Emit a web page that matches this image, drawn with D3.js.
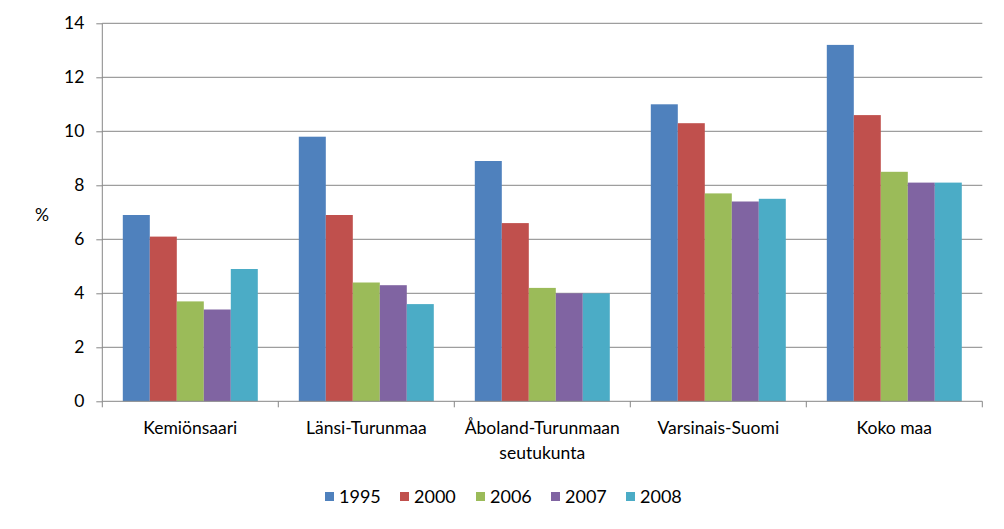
<!DOCTYPE html>
<html><head><meta charset="utf-8">
<script src="https://cdn.jsdelivr.net/npm/d3@7"></script>
<style>body{margin:0;background:#fff;} text{font-family:Lato,"Open Sans",sans-serif;fill:#000;}</style>
</head><body>
<svg id="c" width="1004" height="529"></svg>
<script>
const categories = [["Kemiönsaari"],["Länsi-Turunmaa"],["Åboland-Turunmaan","seutukunta"],["Varsinais-Suomi"],["Koko maa"]];
const years = ["1995","2000","2006","2007","2008"];
const v1995 = [6.9, 9.8, 8.9, 11.0, 13.2];
const v2000 = [6.1, 6.9, 6.6, 10.3, 10.6];
const v2006 = [3.7, 4.4, 4.2, 7.7, 8.5];
const v2007 = [3.4, 4.3, 4.0, 7.4, 8.1];
const v2008 = [4.9, 3.6, 4.0, 7.5, 8.1];
const yTicks = [0,2,4,6,8,10,12,14];
const colors = ["#4F81BD","#C0504D","#9BBB59","#8064A2","#4BACC6"];
const series = [v1995,v2000,v2006,v2007,v2008];

const svg = d3.select("#c");
const L=102.3, R=982.3, T=23.3, B=401.3;
const catIdx = d3.range(categories.length);
const x0 = d3.scaleBand().domain(catIdx).range([L,R]).paddingInner(0.233).paddingOuter(0.1165);
const x1 = d3.scaleBand().domain(d3.range(years.length)).range([0,x0.bandwidth()]);
const y = d3.scaleLinear().domain([0,14]).range([B,T]);

// gridlines
svg.append("g").selectAll("line").data(yTicks.filter(d=>d>0)).join("line")
  .attr("x1",L).attr("x2",R).attr("y1",d=>y(d)).attr("y2",d=>y(d))
  .attr("stroke","#868686").attr("stroke-width",1);

// bars
const g = svg.append("g");
series.forEach((s,si)=>{
  g.selectAll(null).data(s).join("rect")
   .attr("x",(d,i)=>x0(i)+x1(si)).attr("width",x1.bandwidth())
   .attr("y",d=>y(d)).attr("height",d=>B-y(d)).attr("fill",colors[si]);
});

// y axis
const ya = svg.append("g").attr("transform",`translate(${L},0)`)
  .call(d3.axisLeft(y).tickValues(yTicks).tickSize(6).tickPadding(12));
ya.select(".domain").attr("stroke","#868686").attr("d",`M0,${B}V${T}`);
ya.selectAll(".tick line").attr("stroke","#868686");
ya.selectAll(".tick text").attr("font-size","17.5px").attr("font-family","Lato,sans-serif").attr("fill","#000");

// x axis
svg.append("line").attr("x1",L).attr("x2",R).attr("y1",B).attr("y2",B).attr("stroke","#868686");
const step = (R-L)/categories.length;
svg.append("g").selectAll("line").data(d3.range(categories.length+1)).join("line")
  .attr("x1",d=>L+d*step).attr("x2",d=>L+d*step).attr("y1",B).attr("y2",B+6).attr("stroke","#868686");
categories.forEach((lines,i)=>{
  const t = svg.append("text").attr("text-anchor","middle").attr("font-size","17.5px")
    .attr("x",x0(i)+x0.bandwidth()/2).attr("y",434);
  lines.forEach((ln,j)=>t.append("tspan").attr("x",x0(i)+x0.bandwidth()/2).attr("dy",j?25:0).text(ln));
});

// y label
svg.append("text").attr("x",42).attr("y",221).attr("text-anchor","middle").attr("font-size","17.5px").text("%");

// legend
const lx = [325,400,476,551,626];
years.forEach((yr,i)=>{
  svg.append("rect").attr("x",lx[i]).attr("y",492).attr("width",9).attr("height",9).attr("fill",colors[i]);
  svg.append("text").attr("x",lx[i]+14).attr("y",503).attr("font-size","18px").text(yr);
});
</script>
</body></html>
